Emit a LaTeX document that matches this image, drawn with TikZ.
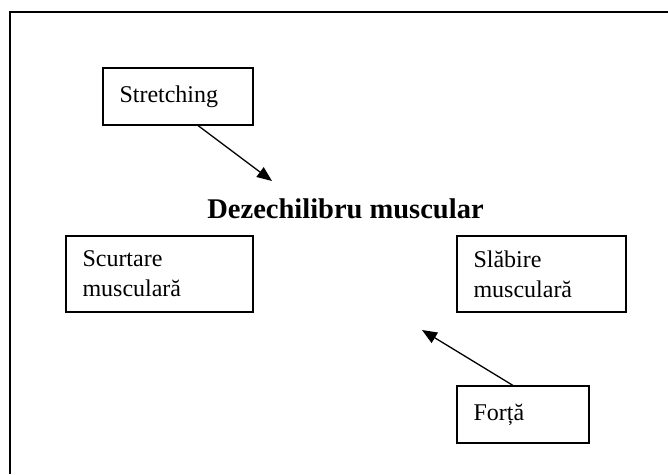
\documentclass[tikz,border=0pt]{standalone}
\usepackage{fontspec}
\setmainfont{Liberation Serif}
\usetikzlibrary{arrows.meta}
\tikzset{
  box/.style={draw, line width=1.1pt, rectangle, inner xsep=16.5pt, align=left,
    font=\fontsize{24}{30}\selectfont},
  conn/.style={line width=1.3pt, -{Triangle[length=15pt,width=12pt]}},
}
\begin{document}
\begin{tikzpicture}[x=1pt,y=-1pt]
\useasboundingbox (0,0) rectangle (668,474);
\draw[line width=1.3pt] (668,12) -- (10,12) -- (10,474);
\node[box, minimum width=150, minimum height=57, text width=117] (stretch) at (178,96.5) {Stretching};
\node[box, minimum width=187, minimum height=76, text width=154] (scurt) at (159.5,274) {Scurtare\\musculară};
\node[box, minimum width=169, minimum height=76, text width=136] (slab) at (541.5,274) {Slăbire\\musculară};
\node[box, minimum width=132, minimum height=57, text width=99] (forta) at (523,414.5) {Forță};
\node[anchor=base, inner sep=0pt, font=\fontsize{28.5}{32}\selectfont\bfseries] (title) at (345.5,218) {Dezechilibru muscular};
\coordinate (t1) at (272,181);
\coordinate (t2) at (422,330);
\draw[conn] (stretch.south -| 198,0) -- (t1);
\draw[conn] (forta.north -| 513,0) -- (t2);
\end{tikzpicture}
\end{document}
